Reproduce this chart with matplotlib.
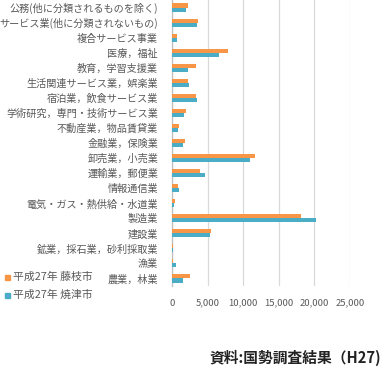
import matplotlib
matplotlib.use("Agg")
import matplotlib.pyplot as plt
import numpy as np

plt.rcParams['font.family'] = ['Noto Sans CJK JP', 'DejaVu Sans']

categories = [
    "公務(他に分類されるものを除く)",
    "サービス業(他に分類されないもの)",
    "複合サービス事業",
    "医療，福祉",
    "教育，学習支援業",
    "生活関連サービス業，娯楽業",
    "宿泊業，飲食サービス業",
    "学術研究，専門・技術サービス業",
    "不動産業，物品賃貸業",
    "金融業，保険業",
    "卸売業，小売業",
    "運輸業，郵便業",
    "情報通信業",
    "電気・ガス・熱供給・水道業",
    "製造業",
    "建設業",
    "鉱業，採石業，砂利採取業",
    "漁業",
    "農業，林業",
]
fujieda = [2290, 3650, 700, 7860, 3370, 2290, 3370, 1970, 980, 1830,
           11650, 3980, 840, 420, 18070, 5480, 140, 140, 2530]
yaizu = [1970, 3510, 700, 6600, 2290, 2390, 3510, 1690, 840, 1540,
         10950, 4630, 980, 280, 20220, 5340, 140, 560, 1540]
series_names = ["平成27年 藤枝市", "平成27年 焼津市"]
xticks = [0, 5000, 10000, 15000, 20000, 25000]
source = "資料:国勢調査結果（H27)"

c_or = "#F79646"
c_bl = "#4BACC6"
txt = "#595959"

fig = plt.figure(figsize=(3.83, 3.67), dpi=100)
ax = fig.add_axes([172/383, 1-286/367, 178/383, 286/367])

n = len(categories)
y = np.arange(n)
h = 0.27
ax.barh(y - h/2, fujieda, height=h, color=c_or, label=series_names[0], zorder=3)
ax.barh(y + h/2, yaizu, height=h, color=c_bl, label=series_names[1], zorder=3)

ax.set_ylim(n - 0.5, -0.5)
ax.set_xlim(0, 25000)
ax.set_yticks(y)
ax.set_yticklabels(categories, fontsize=7.3, color=txt)
ax.set_xticks(xticks)
ax.set_xticklabels([f"{v:,}" for v in xticks], fontsize=6.8, color=txt)
ax.tick_params(axis='both', length=0)
ax.tick_params(axis='y', pad=10)
ax.tick_params(axis='x', pad=9)
ax.grid(axis='x', color="#D9D9D9", linewidth=0.9, zorder=0)
for s in ['top', 'right', 'bottom']:
    ax.spines[s].set_visible(False)
ax.spines['left'].set_color("#BFBFBF")
ax.spines['left'].set_linewidth(0.9)

# legend
for name, col, yy in [(series_names[0], c_or, 277), (series_names[1], c_bl, 295)]:
    fig.patches.append(plt.Rectangle((5/383, 1-(yy+2.5)/367), 5/383, 5/367,
                                     transform=fig.transFigure, color=col, figure=fig))
    fig.text(13/383, 1-yy/367, name, fontsize=7.8, color=txt, va='center', ha='left')

fig.text(381/383, 1-358/367, source, fontsize=10.6, fontweight='bold', color="#222222",
         ha='right', va='center')

fig.savefig("out.png", dpi=100)
